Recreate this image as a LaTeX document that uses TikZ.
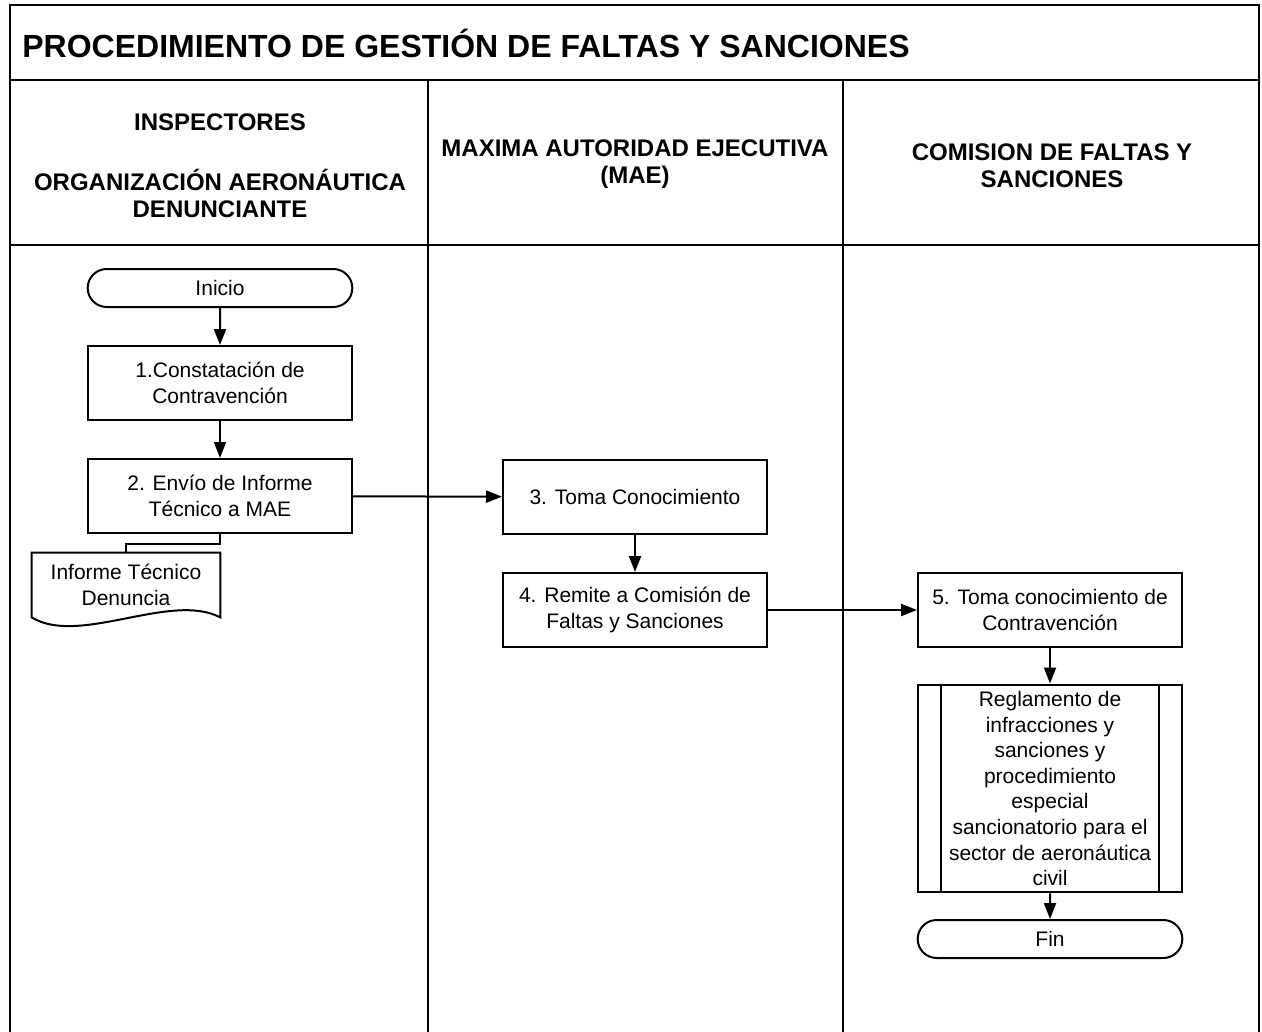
\documentclass[tikz,border=0pt]{standalone}
\usepackage{fontspec}
\setmainfont{Liberation Sans}
\usetikzlibrary{shapes.misc,arrows.meta,positioning}

\tikzset{
  frame/.style = {line width = 1.3pt},
  box/.style = {draw, line width = 1pt, minimum width = 132pt, minimum height = 37pt,
    align = center, font = \fontsize{10.5}{12.8}\selectfont},
  term/.style = {box, rounded rectangle, minimum width = 139pt, minimum height = 19pt},
  lanehead/.style = {align = center, font = \bfseries\fontsize{12}{13.5}\selectfont},
  flow/.style = {line width = 1pt, ->}
}

\begin{document}
\begin{tikzpicture}[x = 0.5pt, y = -0.5pt, > = {Triangle[length = 8pt, width = 6pt]}]

	\useasboundingbox (0, 0) rectangle (1262, 1032);

	% Frame and lanes

	\draw [frame] (10, 1032) -- (10, 5) -- (1259, 5) -- (1259, 1032);
	\draw [frame] (10, 80) -- (1259, 80);
	\draw [frame] (10, 245) -- (1259, 245);
	\draw [frame] (428, 80) -- (428, 1032);
	\draw [frame] (843, 80) -- (843, 1032);

	\node [anchor = west, inner sep = 0pt, font = \bfseries\fontsize{16}{19}\selectfont] (title) at (22, 43)
		{PROCEDIMIENTO DE GESTIÓN DE FALTAS Y SANCIONES};

	% Lane headers

	\node [lanehead] (hinsp) at (220, 122) {INSPECTORES};
	\node [lanehead] (horg) at (220, 193) {ORGANIZACIÓN AERONÁUTICA\\DENUNCIANTE};
	\node [lanehead] (hmae) at (635, 164) {MAXIMA AUTORIDAD EJECUTIVA\\(MAE)};
	\node [lanehead] (hcom) at (1052, 166) {COMISION DE FALTAS Y\\SANCIONES};

	% Inspectores

	\node [term] (inicio) at (220, 288) {Inicio};
	\node [box] (constata) at (220, 383) {1.Constatación de\\Contravención};
	\node [box] (envio) at (220, 496) {2. Envío de Informe\\Técnico a MAE};
	\node [minimum width = 94pt, minimum height = 32pt, align = center,
		font = \fontsize{10.5}{12.8}\selectfont, text depth = 0pt] (informe) at (126, 585)
		{Informe Técnico\\Denuncia};
	\draw [line width = 1pt] (informe.north west) -- (informe.north east) -- (informe.south east)
		.. controls +(-50, -26) and +(48, 29) .. (informe.south west) -- cycle;

	% MAE

	\node [box] (toma) at (635, 497) {3. Toma Conocimiento};
	\node [box] (remite) at (635, 610) {4. Remite a Comisión de\\Faltas y Sanciones};

	% Comision

	\node [box] (contra) at (1050, 610) {5. Toma conocimiento de\\Contravención};
	\node [box, minimum height = 103.5pt] (regla) at (1050, 788.5)
		{Reglamento de\\infracciones y\\sanciones y\\procedimiento\\especial\\sancionatorio para el\\sector de aeronáutica\\civil};
	\draw [line width = 1pt] ([xshift = 12pt] regla.north west) -- ([xshift = 12pt] regla.south west);
	\draw [line width = 1pt] ([xshift = -12pt] regla.north east) -- ([xshift = -12pt] regla.south east);
	\node [term] (fin) at (1050, 939) {Fin};

	% Connectors

	\draw [flow] (inicio) -- (constata);
	\draw [flow] (constata) -- (envio);
	\draw [line width = 1pt] (envio.south) -- ++(0, 10) -| (informe.north);
	\draw [flow] (envio) -- (toma);
	\draw [flow] (toma) -- (remite);
	\draw [flow] (remite) -- (contra);
	\draw [flow] (contra) -- (regla);
	\draw [flow] (regla) -- (fin);

\end{tikzpicture}
\end{document}
